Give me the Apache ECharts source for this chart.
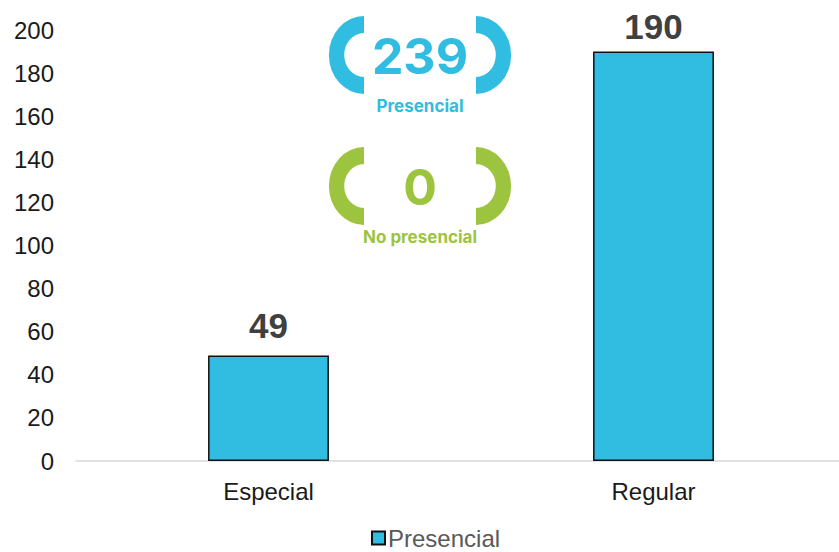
<!DOCTYPE html>
<html>
<head>
<meta charset="utf-8">
<script src="https://cdn.jsdelivr.net/npm/echarts@6/dist/echarts.min.js"></script>
<style>
  html, body { margin: 0; padding: 0; background: #fff; }
  #chart { width: 839px; height: 552px; }
</style>
</head>
<body>
<div id="chart"></div>
<script>
// data
const categories = ["Especial", "Regular"];
const presencial = [49, 190];
const seriesName = "Presencial";
const yTicks = { min: 0, max: 200, interval: 20 };
const totalPresencial = 239;
const totalNoPresencial = 0;

const BLUE = "#31BCE1";
const GREEN = "#9DC43F";

// "( n )" badges drawn with graphic sectors
function badge(cy, color, value, caption) {
  const lx = 364, rx = 476;
  const br = (cx, start, end) => ({
    type: "sector",
    shape: { cx: 0, cy: 0, r: 39, r0: 22, startAngle: start, endAngle: end },
    x: cx, y: cy, scaleX: 0.9,
    style: { fill: color },
  });
  return [
    br(lx, Math.PI / 2, Math.PI * 3 / 2),
    br(rx, -Math.PI / 2, Math.PI / 2),
    {
      type: "text",
      x: 420, y: cy + 1,
      style: {
        text: String(value), fill: color,
        fontFamily: "Inter", fontWeight: 700, fontSize: 50,
        align: "center", verticalAlign: "middle",
      },
    },
    {
      type: "text",
      x: 420, y: cy + 51,
      style: {
        text: caption, fill: color,
        fontFamily: "Inter", fontWeight: 700, fontSize: 17,
        align: "center", verticalAlign: "middle",
      },
    },
  ];
}

const labelDist = [12, 8];

const chart = echarts.init(document.getElementById("chart"), null, { renderer: "svg" });
chart.setOption({
  animation: false,
  textStyle: { fontFamily: "Liberation Sans, Arial, sans-serif" },
  grid: {
    left: 76, top: 30, width: 770, height: 431,
    containLabel: false, outerBoundsMode: "none",
  },
  xAxis: {
    type: "category",
    data: categories,
    axisTick: { show: false },
    axisLine: { lineStyle: { color: "#d9d9d9", width: 1.5 } },
    axisLabel: { color: "#1a1a1a", fontSize: 24, margin: 18 },
  },
  yAxis: {
    type: "value",
    min: yTicks.min, max: yTicks.max, interval: yTicks.interval,
    splitLine: { show: false },
    axisLabel: { color: "#1a1a1a", fontSize: 24, margin: 22 },
  },
  legend: {
    left: 366, top: 521,
    icon: "rect", itemWidth: 13, itemHeight: 13, itemGap: 4,
    textStyle: { color: "#595959", fontSize: 24, padding: [0, 0, 0, -2] },
  },
  series: [{
    name: seriesName,
    type: "bar",
    barWidth: "31.4%",
    data: presencial.map((v, i) => ({
      value: v,
      label: { distance: labelDist[i] },
    })),
    itemStyle: { color: BLUE, borderColor: "#111", borderWidth: 1.5 },
    label: {
      show: true, position: "top",
      color: "#404040", fontSize: 35, fontWeight: "bold",
    },
  }],
  graphic: [
    ...badge(55, BLUE, totalPresencial, "Presencial"),
    ...badge(186, GREEN, totalNoPresencial, "No presencial"),
  ],
});
</script>
</body>
</html>
